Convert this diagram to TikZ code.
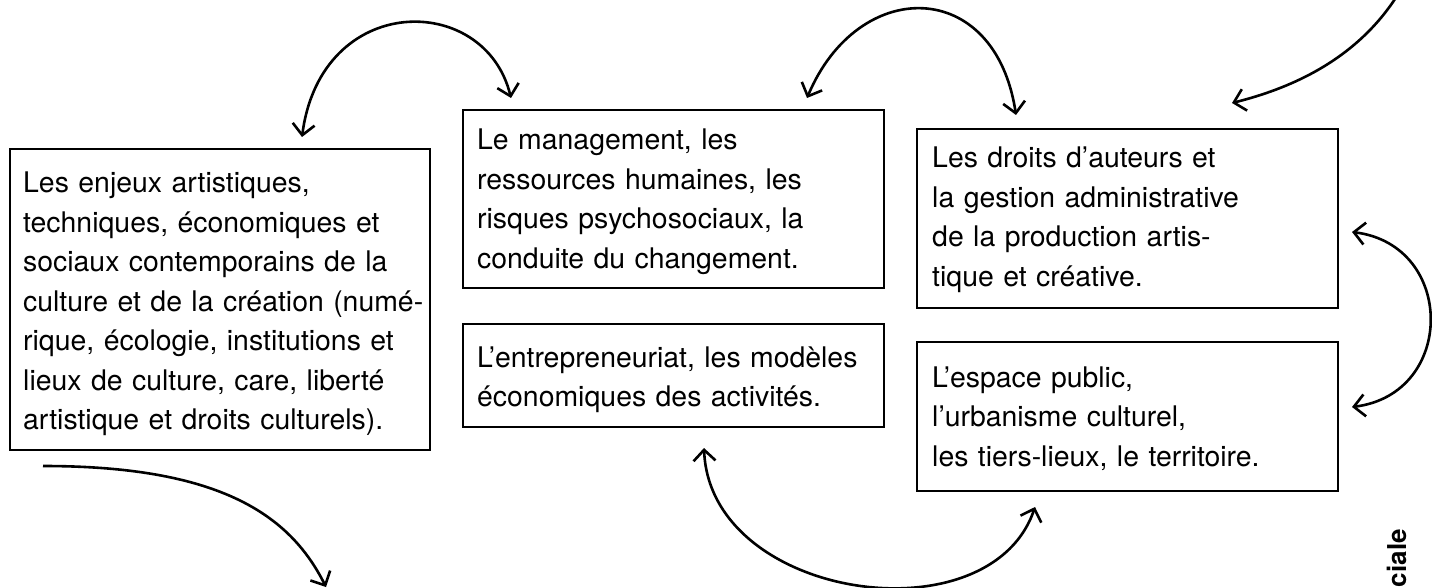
\documentclass[tikz,border=0pt]{standalone}
\usepackage{fontspec}
\setmainfont{TeX Gyre Heros}
\usetikzlibrary{arrows.meta,calc}
\begin{document}
\begin{tikzpicture}[x=1pt,y=-1pt,
  box/.style={draw, line width=2.9pt, inner sep=0pt, outer sep=0pt, anchor=north west},
  txt/.style={anchor=base west, inner sep=0pt, align=left, text width=410pt,
    font=\fontsize{28.4}{39.5}\selectfont},
  tip/.tip={Straight Barb[length=11pt,width=22pt]},
  link/.style={line width=2.6pt, tip-tip},
  onelink/.style={line width=2.6pt, -tip}]
\useasboundingbox (0,0) rectangle (1432,588);
\clip (0,0) rectangle (1432,588);
% boxes
\node[box, minimum width=420pt, minimum height=301pt] (b1) at (10,149) {};
\node[box, minimum width=421pt, minimum height=178pt] (b2) at (463,110) {};
\node[box, minimum width=421pt, minimum height=103pt] (b3) at (463,324) {};
\node[box, minimum width=421pt, minimum height=179pt] (b4) at (917,129) {};
\node[box, minimum width=421pt, minimum height=149pt] (b5) at (917,342) {};
% texts
\node[txt] (t1) at (23,193) {Les enjeux artistiques,\\techniques, économiques et\\sociaux contemporains de la\\culture et de la création (numé-\\rique, écologie, institutions et\\lieux de culture, care, liberté\\artistique et droits culturels).};
\node[txt] (t2) at (477,150) {Le management, les\\ressources humaines, les\\risques psychosociaux, la\\conduite du changement.};
\node[txt] (t3) at (477,367) {L’entrepreneuriat, les modèles\\économiques des activités.};
\node[txt] (t4) at (932,168) {Les droits d’auteurs et\\la gestion administrative\\de la production artis-\\tique et créative.};
\node[txt] (t5) at (932,387) {L’espace public,\\l’urbanisme culturel,\\les tiers-lieux, le territoire.};
\node[rotate=90, anchor=base east, inner sep=0pt, font=\fontsize{26}{30}\selectfont\bfseries] (cut) at (1406,529) {ciale};
% connector ends
\coordinate (a1s) at ($(b1.north west)+(292,-12)$);
\coordinate (a1e) at ($(b2.north west)+(48,-12)$);
\coordinate (a2s) at ($(b2.north west)+(344,-12)$);
\coordinate (a2e) at ($(b4.north west)+(99,-14)$);
\coordinate (a3s) at (1403,-14);
\coordinate (a3e) at ($(b4.north west)+(315,-26)$);
\coordinate (a4s) at ($(b4.north east)+(14,103)$);
\coordinate (a4e) at ($(b5.north east)+(14,65)$);
\coordinate (a5s) at ($(b3.south west)+(241,21)$);
\coordinate (a5e) at ($(b5.south west)+(118,16)$);
\coordinate (a6s) at ($(b1.south west)+(33,16)$);
\coordinate (a6e) at (326,587);
% connectors
\draw[link] (a1s) .. controls (321,-8.5) and (485,-8.5) .. (a1e);
\draw[link] (a2s) .. controls (858,-23.5) and (995,-23.5) .. (a2e);
\draw[onelink] (a3s) .. controls (1362,58) and (1292,88) .. (a3e);
\draw[link] (a4s) .. controls (1456,245) and (1456,394) .. (a4e);
\draw[link] (a5s) .. controls (710,600) and (990,640) .. (a5e);
\draw[onelink] (a6s) .. controls (220,466) and (290,515) .. (a6e);
\end{tikzpicture}
\end{document}
